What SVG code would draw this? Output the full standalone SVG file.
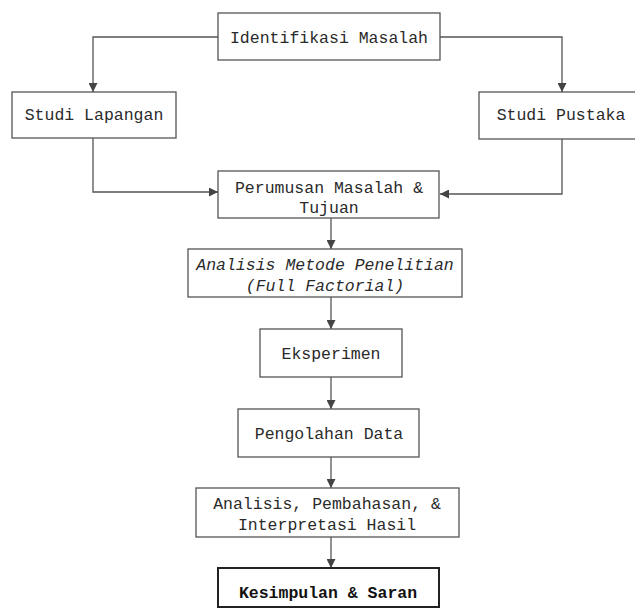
<svg xmlns="http://www.w3.org/2000/svg" width="635" height="608" viewBox="0 0 635 608">
<defs>
<style>
.box{fill:#fff;stroke:#555;stroke-width:1.3}
.bold{fill:#fff;stroke:#222;stroke-width:2}
.t{font-family:"Liberation Mono","Courier New",monospace;font-size:16.5px;fill:#2a2a2a;text-anchor:middle}
.i{font-style:italic}
.b{font-weight:bold;fill:#111}
.c{fill:none;stroke:#555;stroke-width:1.3}
</style>
<marker id="ah" viewBox="0 0 10 10" refX="10" refY="5" markerWidth="9" markerHeight="9" markerUnits="userSpaceOnUse" orient="auto">
<path d="M0,0 L10,5 L0,10 Z" fill="#444"/>
</marker>
</defs>
<rect width="635" height="608" fill="#fff"/>
<g id="connectors">
<polyline class="c" points="218,37 93,37 93,92" marker-end="url(#ah)"/>
<polyline class="c" points="440,37 562,37 562,92" marker-end="url(#ah)"/>
<polyline class="c" points="93,138 93,192 218,192" marker-end="url(#ah)"/>
<polyline class="c" points="562,139 562,194 440,194" marker-end="url(#ah)"/>
<line class="c" x1="331" y1="218" x2="331" y2="249" marker-end="url(#ah)"/>
<line class="c" x1="331" y1="297" x2="331" y2="329" marker-end="url(#ah)"/>
<line class="c" x1="331" y1="377" x2="331" y2="409" marker-end="url(#ah)"/>
<line class="c" x1="331" y1="457" x2="331" y2="488" marker-end="url(#ah)"/>
<line class="c" x1="331" y1="537" x2="331" y2="568" marker-end="url(#ah)"/>
</g>
<g id="identifikasi">
<rect class="box" x="218" y="13" width="222" height="47"/>
<text class="t" x="329" y="43">Identifikasi Masalah</text>
</g>
<g id="studi-lapangan">
<rect class="box" x="12" y="92" width="164" height="46"/>
<text class="t" x="94" y="120">Studi Lapangan</text>
</g>
<g id="studi-pustaka">
<rect class="box" x="479" y="92" width="162" height="47"/>
<text class="t" x="561" y="120">Studi Pustaka</text>
</g>
<g id="perumusan">
<rect class="box" x="218" y="171" width="221" height="47"/>
<text class="t" x="329" y="193">Perumusan Masalah &amp;</text>
<text class="t" x="329" y="213">Tujuan</text>
</g>
<g id="analisis-metode">
<rect class="box" x="188" y="249" width="274" height="48"/>
<text class="t i" x="325" y="270">Analisis Metode Penelitian</text>
<text class="t i" x="325" y="291">(Full Factorial)</text>
</g>
<g id="eksperimen">
<rect class="box" x="260" y="329" width="142" height="48"/>
<text class="t" x="331" y="359">Eksperimen</text>
</g>
<g id="pengolahan">
<rect class="box" x="238" y="409" width="181" height="48"/>
<text class="t" x="329" y="439">Pengolahan Data</text>
</g>
<g id="analisis-pembahasan">
<rect class="box" x="196" y="488" width="263" height="49"/>
<text class="t" x="327" y="509">Analisis, Pembahasan, &amp;</text>
<text class="t" x="327" y="530">Interpretasi Hasil</text>
</g>
<g id="kesimpulan">
<rect class="bold" x="218" y="568" width="221" height="39"/>
<text class="t b" x="328" y="598">Kesimpulan &amp; Saran</text>
</g>
</svg>
